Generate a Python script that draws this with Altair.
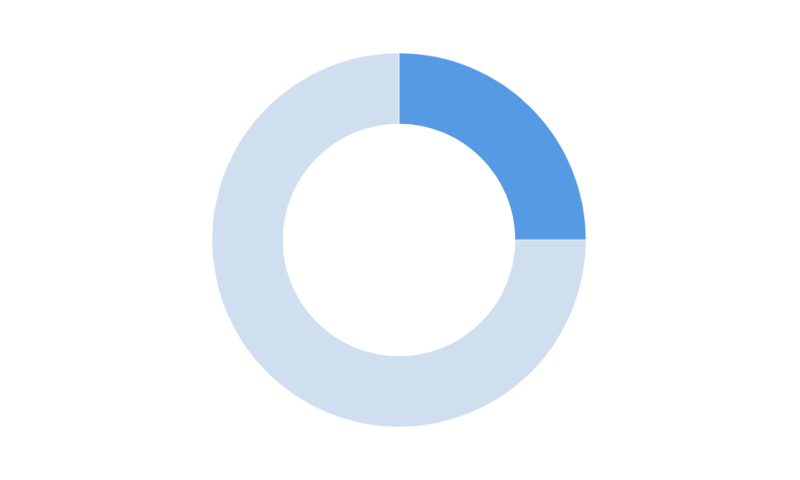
import altair as alt
import pandas as pd

categories = ["Value", "Remainder"]
values = [25, 75]
colors = ["#559ae2", "#cfdff0"]

df = pd.DataFrame({"category": categories, "value": values, "order": [0, 1]})

chart = alt.Chart(df).mark_arc(radius=187, innerRadius=116, stroke="#ffffff", strokeWidth=0.5).encode(
    theta=alt.Theta("value:Q", stack=True),
    color=alt.Color("category:N", scale=alt.Scale(domain=categories, range=colors), legend=None),
    order=alt.Order("order:Q"),
).properties(
    width=782, height=464, padding=0, autosize=alt.AutoSizeParams(type="none")
).configure_view(stroke=None)

chart.save("out.html", embed_options={"renderer": "svg", "actions": False})
